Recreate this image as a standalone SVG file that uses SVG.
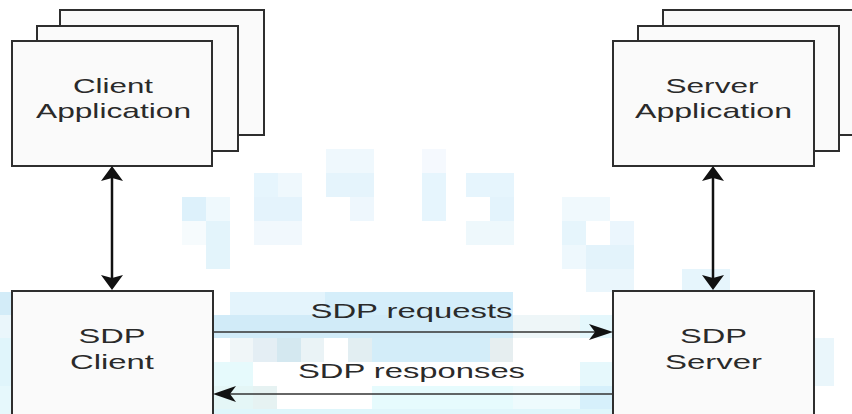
<svg xmlns="http://www.w3.org/2000/svg" width="852" height="414" viewBox="0 0 852 414">
<defs>
<style>
.box{fill:#fafafa;stroke:#2e2e2e;stroke-width:2}
.lbl{font-family:"Liberation Sans",Arial,sans-serif;font-size:21px;fill:#2a2a2a;text-anchor:middle}
.vline{stroke:#111;stroke-width:2.5;fill:none}
.hline{stroke:#333;stroke-width:1.6;fill:none}
.head{fill:#111}
</style>
</defs>
<rect width="852" height="414" fill="#ffffff"/>
<g id="watermark">
<rect x="182" y="197" width="24" height="24" fill="#ddf1fb"/>
<rect x="206" y="197" width="24" height="24" fill="#eff9fd"/>
<rect x="182" y="221" width="24" height="24" fill="#f6fbfd"/>
<rect x="206" y="221" width="24" height="48" fill="#e3f4fb"/>
<rect x="254" y="173" width="24" height="24" fill="#e6f5fd"/>
<rect x="278" y="173" width="24" height="24" fill="#eff8fd"/>
<rect x="254" y="197" width="48" height="24" fill="#e4f3fc"/>
<rect x="254" y="221" width="48" height="24" fill="#f1f8fd"/>
<rect x="326" y="149" width="48" height="24" fill="#eff8fd"/>
<rect x="326" y="173" width="48" height="24" fill="#e5f4fc"/>
<rect x="350" y="197" width="24" height="24" fill="#eef7fd"/>
<rect x="422" y="149" width="24" height="24" fill="#f5f9fe"/>
<rect x="422" y="173" width="24" height="48" fill="#e6f5fd"/>
<rect x="466" y="173" width="48" height="24" fill="#e6f5fd"/>
<rect x="490" y="197" width="24" height="24" fill="#e3f3fc"/>
<rect x="466" y="221" width="48" height="24" fill="#eef8fc"/>
<rect x="562" y="197" width="48" height="24" fill="#f0f9fd"/>
<rect x="562" y="221" width="24" height="24" fill="#e6f5fc"/>
<rect x="610" y="221" width="24" height="24" fill="#ebf6fd"/>
<rect x="562" y="245" width="24" height="24" fill="#eef8fd"/>
<rect x="586" y="245" width="48" height="24" fill="#e3f3fb"/>
<rect x="586" y="269" width="48" height="23" fill="#eaf6fc"/>
<rect x="682" y="269" width="48" height="23" fill="#e6f5fc"/>
<rect x="0" y="292" width="12" height="23" fill="#d3ecf8"/>
<rect x="0" y="315" width="12" height="23" fill="#eaf6fb"/>
<rect x="0" y="338" width="12" height="48" fill="#e0f5fb"/>
<rect x="0" y="386" width="12" height="28" fill="#e6f8fc"/>
<rect x="230" y="292" width="95" height="23" fill="#e4f4fc"/>
<rect x="325" y="292" width="188" height="23" fill="#d5eefa"/>
<rect x="213" y="315" width="300" height="23" fill="#d1ebf8"/>
<rect x="513" y="315" width="67" height="23" fill="#eef6f8"/>
<rect x="580" y="315" width="33" height="23" fill="#e4f7fc"/>
<rect x="230" y="338" width="23" height="24" fill="#f0f6f8"/>
<rect x="253" y="338" width="24" height="24" fill="#e4eef4"/>
<rect x="277" y="338" width="24" height="24" fill="#d4e8f0"/>
<rect x="301" y="338" width="23" height="24" fill="#eaf3f6"/>
<rect x="348" y="338" width="24" height="24" fill="#e2eef2"/>
<rect x="372" y="338" width="118" height="24" fill="#d3edf9"/>
<rect x="490" y="338" width="23" height="24" fill="#e6eef0"/>
<rect x="213" y="362" width="40" height="24" fill="#e6fafc"/>
<rect x="580" y="362" width="33" height="24" fill="#e6f8fc"/>
<rect x="213" y="386" width="40" height="23" fill="#e4f6f6"/>
<rect x="253" y="386" width="24" height="23" fill="#e6f2f2"/>
<rect x="372" y="386" width="141" height="23" fill="#e6fbfd"/>
<rect x="513" y="386" width="67" height="23" fill="#eefbfd"/>
<rect x="580" y="386" width="33" height="23" fill="#d6f0fb"/>
<rect x="213" y="409" width="400" height="5" fill="#dff6fb"/>
<rect x="814" y="338" width="20" height="48" fill="#eaf6fb"/>
</g>
<g id="client-application">
<rect class="box" x="60" y="10" width="204" height="125"/>
<rect class="box" x="37" y="26" width="201" height="125"/>
<rect class="box" x="12" y="41" width="200" height="125"/>
<text class="lbl" x="113" y="93" textLength="80" lengthAdjust="spacingAndGlyphs">Client</text>
<text class="lbl" x="113.5" y="118" textLength="155" lengthAdjust="spacingAndGlyphs">Application</text>
</g>
<g id="server-application">
<rect class="box" x="663" y="10" width="200" height="125"/>
<rect class="box" x="638" y="26" width="201" height="125"/>
<rect class="box" x="613" y="41" width="201" height="125"/>
<text class="lbl" x="712" y="93" textLength="93" lengthAdjust="spacingAndGlyphs">Server</text>
<text class="lbl" x="713.5" y="118" textLength="157" lengthAdjust="spacingAndGlyphs">Application</text>
</g>
<g id="sdp-client">
<rect class="box" x="12" y="291" width="201" height="140"/>
<text class="lbl" x="112" y="343" textLength="67" lengthAdjust="spacingAndGlyphs">SDP</text>
<text class="lbl" x="112" y="369" textLength="84" lengthAdjust="spacingAndGlyphs">Client</text>
</g>
<g id="sdp-server">
<rect class="box" x="613" y="291" width="201" height="140"/>
<text class="lbl" x="713.5" y="343" textLength="67" lengthAdjust="spacingAndGlyphs">SDP</text>
<text class="lbl" x="713.5" y="369" textLength="97" lengthAdjust="spacingAndGlyphs">Server</text>
</g>
<g id="connectors">
<line class="vline" x1="112" y1="178" x2="112" y2="279"/>
<path class="head" d="M112,166 L101,181 L112,178 L123,181 Z"/>
<path class="head" d="M112,290 L101,275 L112,278 L123,275 Z"/>
<line class="vline" x1="713" y1="178" x2="713" y2="279"/>
<path class="head" d="M713,166 L702,181 L713,178 L724,181 Z"/>
<path class="head" d="M713,290 L702,275 L713,278 L724,275 Z"/>
<line class="hline" x1="213" y1="332" x2="600" y2="332"/>
<path class="head" d="M613,332 L589,324 L595,332 L589,340 Z"/>
<line class="hline" x1="226" y1="394" x2="613" y2="394"/>
<path class="head" d="M213,394 L236,386 L230,394 L236,402 Z"/>
<text class="lbl" x="411.5" y="318" textLength="202" lengthAdjust="spacingAndGlyphs">SDP requests</text>
<text class="lbl" x="411.5" y="378" textLength="227" lengthAdjust="spacingAndGlyphs">SDP responses</text>
</g>
</svg>
